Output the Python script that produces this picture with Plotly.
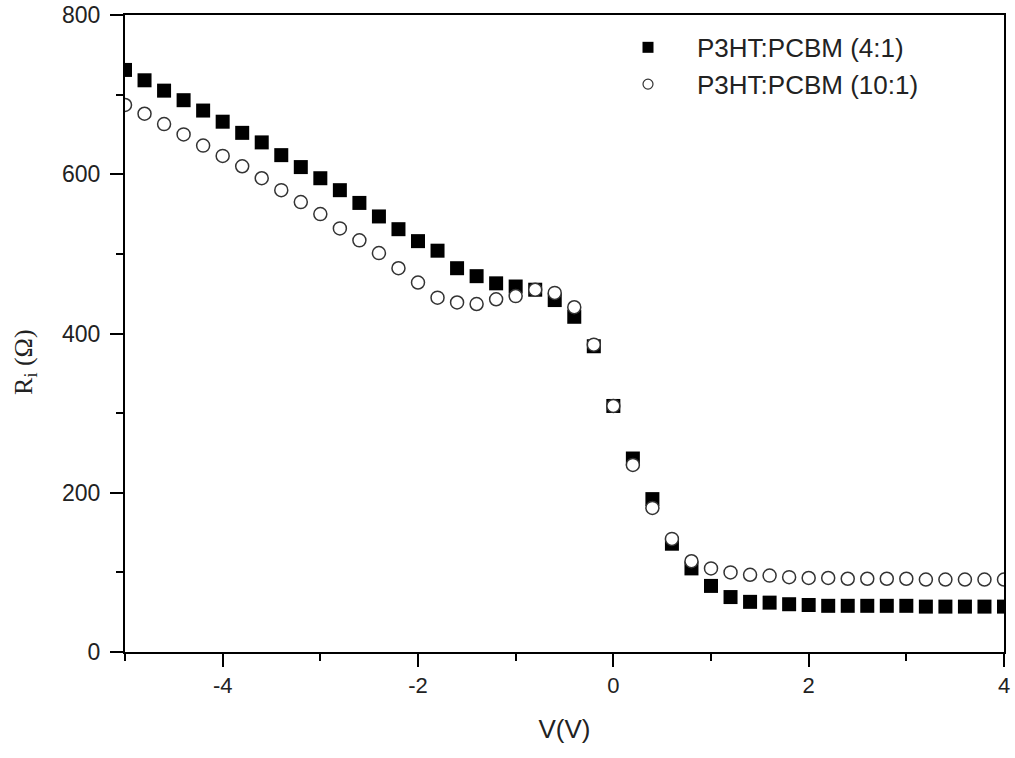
import plotly.graph_objects as go

voltage = [-5.0, -4.8, -4.6, -4.4, -4.2, -4.0, -3.8, -3.6, -3.4, -3.2,
           -3.0, -2.8, -2.6, -2.4, -2.2, -2.0, -1.8, -1.6, -1.4, -1.2,
           -1.0, -0.8, -0.6, -0.4, -0.2, 0.0, 0.2, 0.4, 0.6, 0.8,
           1.0, 1.2, 1.4, 1.6, 1.8, 2.0, 2.2, 2.4, 2.6, 2.8,
           3.0, 3.2, 3.4, 3.6, 3.8, 4.0]

r_4_1 = [731, 718, 705, 693, 680, 666, 652, 640, 624, 609,
         595, 580, 564, 547, 531, 516, 504, 482, 472, 463,
         459, 455, 442, 421, 384, 309, 243, 192, 136, 105,
         83, 69, 63, 62, 60, 59, 58, 58, 58, 58,
         58, 57, 57, 57, 57, 57]

r_10_1 = [687, 676, 663, 650, 636, 623, 610, 595, 580, 565,
          550, 532, 517, 501, 482, 464, 445, 439, 437, 443,
          447, 455, 451, 433, 386, 309, 235, 181, 142, 114,
          105, 100, 97, 96, 94, 93, 93, 92, 92, 92,
          92, 91, 91, 91, 91, 91]

names = ["P3HT:PCBM (4:1)", "P3HT:PCBM (10:1)"]

x_tickvals = [-4, -2, 0, 2, 4]
x_ticktext = ["-4", "-2", "0", "2", "4"]
y_tickvals = [0, 200, 400, 600, 800]
y_ticktext = ["0", "200", "400", "600", "800"]

fig = go.Figure()
fig.add_trace(go.Scatter(
    x=voltage, y=r_4_1, mode="markers", name=names[0], showlegend=False,
    marker=dict(symbol="square", size=14, color="black", line=dict(width=0)),
))
fig.add_trace(go.Scatter(
    x=voltage, y=r_10_1, mode="markers", name=names[1], showlegend=False,
    marker=dict(symbol="circle", size=13, color="white",
                line=dict(width=1.5, color="#333333")),
))
# legend entries with smaller symbols
fig.add_trace(go.Scatter(
    x=[None], y=[None], mode="markers", name=names[0],
    marker=dict(symbol="square", size=11, color="black", line=dict(width=0)),
))
fig.add_trace(go.Scatter(
    x=[None], y=[None], mode="markers", name=names[1],
    marker=dict(symbol="circle", size=10, color="white",
                line=dict(width=1.2, color="#333333")),
))

axis_common = dict(
    showline=True, linecolor="black", linewidth=2, mirror=True,
    showgrid=False, zeroline=False, automargin=False,
    ticks="outside", ticklen=13, tickwidth=2, tickcolor="black",
)

fig.update_layout(
    width=1015, height=758,
    margin=dict(l=125, r=11, t=15, b=106),
    paper_bgcolor="white", plot_bgcolor="white",
    xaxis=dict(
        range=[-5, 4], tickmode="array", tickvals=x_tickvals, ticktext=x_ticktext,
        minor=dict(tickmode="linear", tick0=0, dtick=1, ticks="outside", ticklen=7,
                   tickwidth=2, tickcolor="black"),
        tickfont=dict(family="Liberation Sans, Arial, sans-serif", size=22, color="#222222"),
        title=dict(text="V(V)", font=dict(family="Liberation Sans, Arial, sans-serif",
                                          size=26, color="#222222"), standoff=22),
        **axis_common,
    ),
    yaxis=dict(
        range=[0, 800], tickmode="array", tickvals=y_tickvals, ticktext=y_ticktext,
        minor=dict(tickmode="linear", tick0=0, dtick=100, ticks="outside", ticklen=7,
                   tickwidth=2, tickcolor="black"),
        tickfont=dict(family="Liberation Sans, Arial, sans-serif", size=23, color="#222222"),
        ticklabelstandoff=5,
        **axis_common,
    ),
    legend=dict(
        x=(599 - 125) / 879, y=0.986, xanchor="left", yanchor="top",
        bgcolor="rgba(0,0,0,0)", borderwidth=0, itemwidth=88,
        font=dict(family="Liberation Sans, Arial, sans-serif", size=26, color="#222222"),
    ),
    annotations=[dict(
        text="R<sub>i</sub> (Ω)", textangle=-90, showarrow=False,
        xref="paper", yref="paper", x=-0.114, y=0.455,
        xanchor="center", yanchor="middle",
        font=dict(family="Liberation Serif, Times New Roman, serif", size=26, color="#222222"),
    )],
)

fig.write_html("out.html")
